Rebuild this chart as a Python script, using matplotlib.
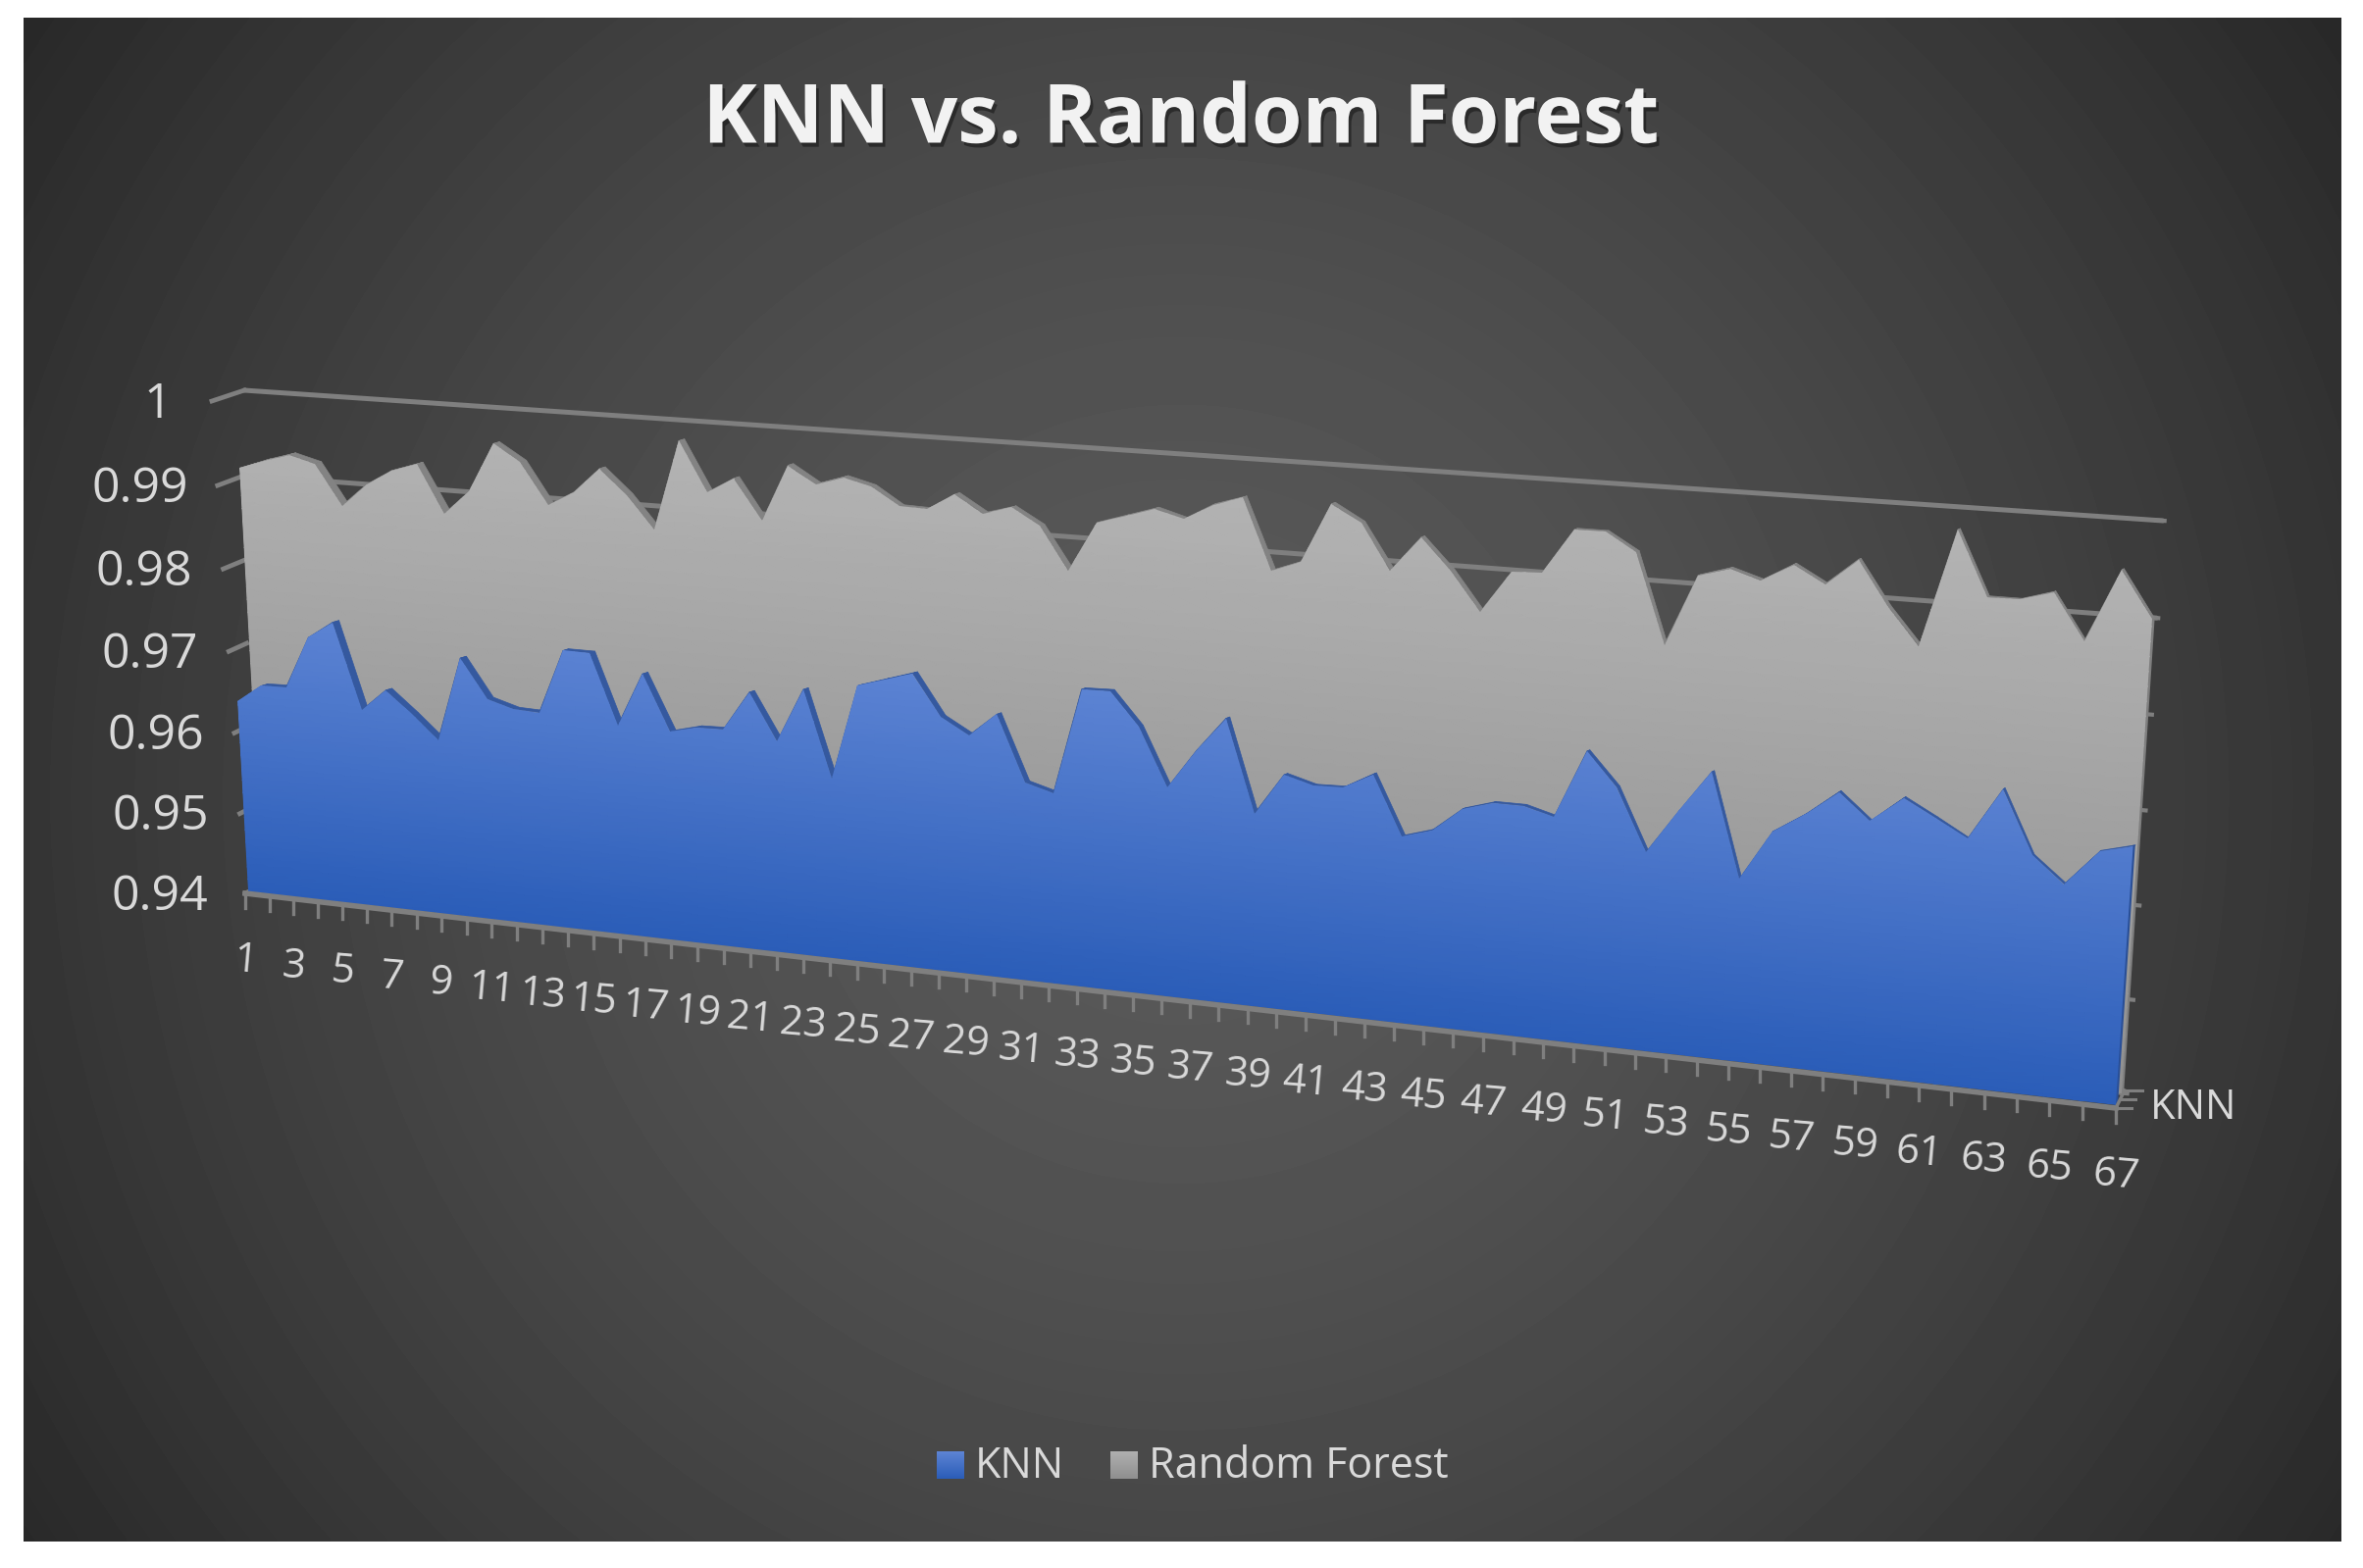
import numpy as np
import matplotlib
matplotlib.use("Agg")
import matplotlib.pyplot as plt
import matplotlib.patheffects as pe
from matplotlib.collections import PolyCollection
from matplotlib.colors import LinearSegmentedColormap
from matplotlib.patches import Polygon
from matplotlib.transforms import Transform

plt.rcParams['font.family'] = ['Open Sans', 'DejaVu Sans']

# values
knn = [0.9635, 0.9657, 0.9658, 0.9721, 0.9742, 0.9639, 0.9666, 0.9640, 0.9612, 0.9713,
       0.9667, 0.9658, 0.9657, 0.9733, 0.9733, 0.9650, 0.9714, 0.9649, 0.9657, 0.9658,
       0.9704, 0.9650, 0.9713, 0.9612, 0.9723, 0.9733, 0.9743, 0.9696, 0.9678, 0.9705,
       0.9630, 0.9621, 0.9742, 0.9743, 0.9706, 0.9640, 0.9685, 0.9724, 0.9620, 0.9667,
       0.9658, 0.9659, 0.9677, 0.9611, 0.9621, 0.9648, 0.9658, 0.9658, 0.9649, 0.9724,
       0.9688, 0.9620, 0.9668, 0.9714, 0.9601, 0.9656, 0.9678, 0.9705, 0.9677, 0.9705,
       0.9687, 0.9668, 0.9724, 0.9657, 0.9630, 0.9668, 0.9677]
forest = [0.9909, 0.9920, 0.9929, 0.9921, 0.9874, 0.9901, 0.9919, 0.9929, 0.9874, 0.9902,
          0.9959, 0.9940, 0.9893, 0.9910, 0.9939, 0.9911, 0.9874, 0.9977, 0.9921, 0.9939,
          0.9893, 0.9958, 0.9939, 0.9949, 0.9941, 0.9921, 0.9920, 0.9939, 0.9920, 0.9929,
          0.9911, 0.9864, 0.9919, 0.9929, 0.9939, 0.9930, 0.9948, 0.9958, 0.9881, 0.9893,
          0.9958, 0.9940, 0.9891, 0.9929, 0.9896, 0.9854, 0.9899, 0.9901, 0.9949, 0.9949,
          0.9930, 0.9834, 0.9910, 0.9920, 0.9910, 0.9929, 0.9911, 0.9939, 0.9892, 0.9854,
          0.9977, 0.9910, 0.9910, 0.9920, 0.9872, 0.9948, 0.9900]
cats = np.arange(1, 68)
val_ticks = [0.94, 0.95, 0.96, 0.97, 0.98, 0.99, 1.0]
val_labels = ['0.94', '0.95', '0.96', '0.97', '0.98', '0.99', '1']
val_nudge = [-87, -81, -80, -81, -81, -79, -55]


class Plane(Transform):
    # perspective map from (category, value) to picture pixels
    input_dims = 2
    output_dims = 2

    def __init__(self, bl, br, tr, tl):
        super().__init__()
        src = [(1, 0.94), (67, 0.94), (67, 1.0), (1, 1.0)]
        a = []
        b = []
        for (x, y), (u, v) in zip(src, [bl, br, tr, tl]):
            a.append([x, y, 1, 0, 0, 0, -u * x, -u * y])
            a.append([0, 0, 0, x, y, 1, -v * x, -v * y])
            b += [u, v]
        self.h = np.append(np.linalg.solve(np.array(a), np.array(b)), 1).reshape(3, 3)

    def transform_non_affine(self, xy):
        xy = np.asarray(xy, dtype=float)
        p = np.column_stack([xy, np.ones(len(xy))]) @ self.h.T
        return p[:, :2] / p[:, 2:]


fig = plt.figure(figsize=(24.09, 15.99), dpi=100, facecolor='white')
ax = fig.add_axes([0, 0, 1, 1])
ax.set_xlim(0, 2409)
ax.set_ylim(1599, 0)
ax.autoscale(False)
ax.axis('off')

# planes of the 3D box
knn_plane = Plane((253, 909), (2158, 1127), (2197, 543), (225.5, 405))
knn_back = Plane((260, 907), (2159.5, 1126), (2198.5, 542), (232.5, 403))
rf_plane = Plane((268, 908), (2163, 1115), (2201, 531), (240, 398))
rf_back = Plane((275, 906), (2165, 1114), (2203, 530), (247, 396))
wall = Plane((254, 909), (2167, 1115), (2205, 531), (249, 398))
front = Plane((250, 911), (2157, 1130), (2195, 545), (216, 409))

# background
yy, xx = np.mgrid[18:1572:400j, 24:2387:600j]
dist = np.hypot(xx - 1205, yy - 810)
ax.imshow(90 - 49 * (dist / 1414) ** 1.5, extent=(24, 2387, 1572, 18), cmap='gray', vmin=0, vmax=255,
          aspect='auto', interpolation='bilinear', zorder=0)

grid_col = '#7f7f7f'
txt_col = '#d9d9d9'

# gridlines and stubs on the walls
for v in [0.99, 1.0]:
    ax.plot([1, 67], [v, v], color=grid_col, lw=3.6, solid_capstyle='round',
            transform=wall + ax.transData, zorder=1)
for v in val_ticks:
    a = front.transform([(1, v)])[0]
    b = wall.transform([(1, v)])[0]
    ax.plot([a[0], b[0]], [a[1], b[1]], color=grid_col, lw=3.4, zorder=1)
    ax.plot([66.8, 67.05], [v, v], color=grid_col, lw=3, transform=wall + ax.transData, zorder=1)
ax.plot([67, 67], [0.94, forest[-1]], color=grid_col, lw=3,
        transform=rf_plane + ax.transData, zorder=1)


def band(series, p0, p1, color, z):
    # top surface of an area, visible on the falling stretches
    pts = np.column_stack([cats, series])
    f = p0.transform(pts)
    g = p1.transform(pts)
    polys = [[f[i], f[i + 1], g[i + 1], g[i]] for i in range(len(f) - 1)]
    ax.add_collection(PolyCollection(polys, facecolors=color, edgecolors=color, linewidths=0.5,
                                     zorder=z), autolim=False)


def area(series, plane, colors, vmin, vmax, z):
    cmap = LinearSegmentedColormap.from_list('a', colors)
    gx = np.tile(np.linspace(1, 67, 60), (40, 1))
    gy = np.tile(np.linspace(0.94, 1.0, 40)[:, None], (1, 60))
    mesh = ax.pcolormesh(gx, gy, gy, cmap=cmap, vmin=vmin, vmax=vmax, shading='gouraud',
                         transform=plane + ax.transData, zorder=z)
    xy = np.vstack([[cats[0], 0.94], np.column_stack([cats, series]), [cats[-1], 0.94]])
    clip = Polygon(xy, closed=True, transform=plane + ax.transData)
    mesh.set_clip_path(clip)


band(forest, rf_plane, rf_back, '#838383', 2)
area(forest, rf_plane, ['#8f8f8f', '#b4b4b4'], 0.94, 0.998, 3)
band(knn, knn_plane, knn_back, '#35599f', 4)
area(knn, knn_plane, ['#2b5db8', '#5d84d4'], 0.94, 0.975, 5)
ax.plot([67, 67], [0.94, knn[-1]], color='#2a4f96', lw=1.5,
        transform=knn_plane + ax.transData, zorder=6)

# category axis
ax.plot([1, 67], [0.94, 0.94], color=grid_col, lw=4, transform=front + ax.transData, zorder=6)
base = front.transform(np.column_stack([cats, np.full(67, 0.94)]))
for (x, y), c in zip(base, cats):
    ax.plot([x, x], [y, y + 15], color=grid_col, lw=2.4, zorder=6)
    if c % 2 == 1:
        ax.text(x, y + 69, str(c), color=txt_col, fontsize=30, ha='center', va='center',
                rotation=-5, rotation_mode='anchor', zorder=7)

# value axis labels
for v, lab, dx in zip(val_ticks, val_labels, val_nudge):
    x, y = front.transform([(1, v)])[0]
    ax.text(x + dx, y + 4, lab, color=txt_col, fontsize=36, ha='center', va='center', zorder=7)

# depth axis
x, y = base[-1]
ax.plot([x, x + 9], [y, y - 18], color=grid_col, lw=2.5, zorder=6)
for ox, oy, ln in [(0, 0, 16), (5, -9, 15), (9, -18, 18)]:
    ax.plot([x + ox, x + ox + ln], [y + oy, y + oy], color=grid_col, lw=2.2, zorder=6)
ax.text(2192, 1130, 'KNN', color=txt_col, fontsize=30, ha='left', va='center', zorder=7)

# title
ax.text(1204, 124, 'KNN vs. Random Forest', color='#f2f2f2', fontsize=60, fontweight='bold',
        ha='center', va='center', zorder=7,
        path_effects=[pe.withSimplePatchShadow(offset=(2, -3), shadow_rgbFace='black', alpha=0.4)])

# legend
grad = np.linspace(0, 1, 30)[:, None]
for x0, colors, lab, tx in [(955, ['#2b5db8', '#5d84d4'], 'KNN', 994),
                            (1132, ['#8f8f8f', '#b0b0b0'], 'Random Forest', 1171)]:
    cmap = LinearSegmentedColormap.from_list('l', colors)
    ax.imshow(grad, extent=(x0, x0 + 28, 1508, 1480), origin='lower', cmap=cmap, aspect='auto', zorder=7)
    ax.text(tx, 1496, lab, color=txt_col, fontsize=31, ha='left', va='center', zorder=7)

ax.set_xlim(0, 2409)
ax.set_ylim(1599, 0)
fig.savefig('out.png', dpi=100, facecolor='white')
